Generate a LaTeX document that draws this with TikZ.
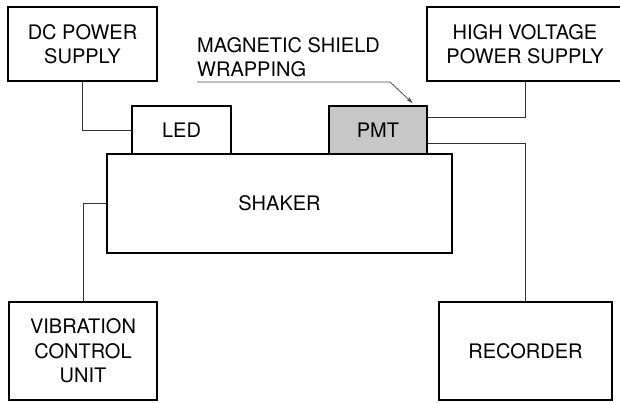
\documentclass[tikz,border=0pt]{standalone}
\usepackage{fontspec}
\setmainfont{TeX Gyre Heros}
\usetikzlibrary{arrows.meta}

\begin{document}
\begin{tikzpicture}[x=1pt,y=-1pt,
  box/.style={draw,line width=1.5pt,align=center,inner sep=0pt},
  wire/.style={line width=0.8pt,black!80},
  lead/.style={line width=0.8pt,black!70,-{Stealth[length=7pt,width=4pt]}},
  every node/.style={font=\fontsize{20}{24.5}\selectfont}]
\useasboundingbox (0,0) rectangle (620,402);

\node[box,minimum width=149pt,minimum height=74pt] (dcps) at (82.5,44) {DC POWER\\SUPPLY};
\node[box,minimum width=196pt,minimum height=74pt] (hvps) at (525,44) {HIGH VOLTAGE\\POWER SUPPLY};
\node[box,minimum width=99pt,minimum height=48pt] (led) at (181.5,130) {LED};
\node[box,fill=black!22,minimum width=98pt,minimum height=48pt] (pmt) at (378,130) {PMT};
\node[box,minimum width=345pt,minimum height=99pt] (shaker) at (279.5,203.5) {SHAKER};
\node[box,minimum width=148pt,minimum height=98pt] (vcu) at (83,351) {VIBRATION\\CONTROL\\UNIT};
\node[box,minimum width=173pt,minimum height=98pt] (rec) at (525.5,351) {RECORDER};

\node[anchor=north west,inner sep=0pt,align=left] (mag) at (197,37) {MAGNETIC SHIELD\\WRAPPING};
\coordinate (lead0) at (197,82);
\coordinate (lead1) at (390,82);

\draw[wire] (dcps.south) |- (led.west);
\draw[wire] ([yshift=13pt]pmt.east) -| (hvps.south);
\draw[wire] ([yshift=-13pt]pmt.east) -| (rec.north);
\draw[wire] (shaker.west) -| (vcu.north);
\draw[lead] (lead0) -- (lead1) -- ([xshift=-15pt,yshift=2pt]pmt.north east);
\end{tikzpicture}
\end{document}
